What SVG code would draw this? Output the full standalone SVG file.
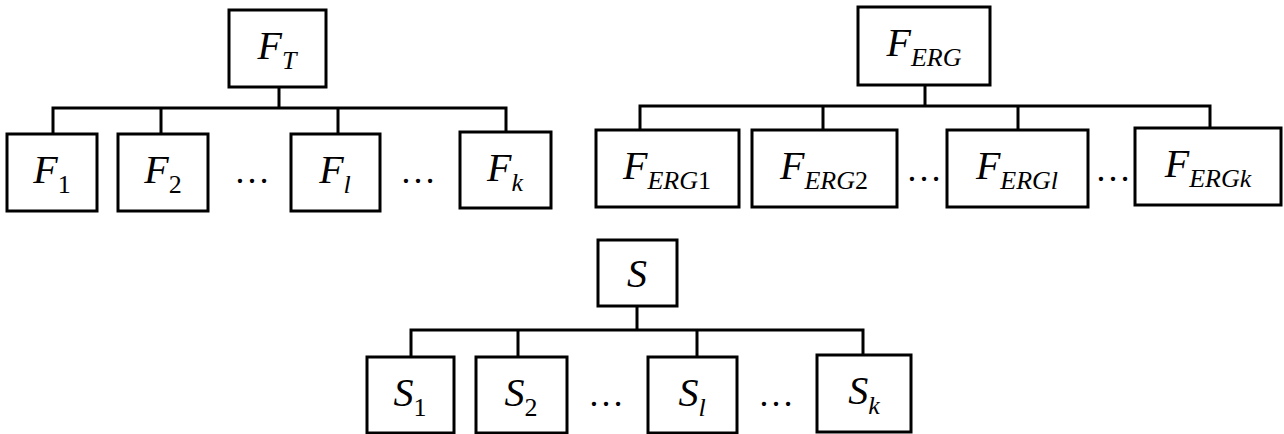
<svg xmlns="http://www.w3.org/2000/svg" width="1284" height="434" viewBox="0 0 1284 434">
  <style>
    .box { fill: #ffffff; stroke: #000000; stroke-width: 3; }
    .wire { fill: none; stroke: #000000; stroke-width: 3; stroke-linecap: square; }
    text, tspan { font-family: "Liberation Serif", "Times New Roman", serif; }
    .lbl { font-size: 40px; font-style: italic; }
    .sub { font-size: 26px; }
    .up { font-style: normal; }
    .dots { font-size: 36px; }
  </style>
  <rect width="1284" height="434" fill="#ffffff"/>

  <!-- connectors -->
  <g id="connectors" class="wire">
    <!-- F_T tree -->
    <path d="M279 87 V108 M53 108 H506 M53 108 V134 M161 108 V134 M338 108 V134 M506 108 V132"/>
    <!-- F_ERG tree -->
    <path d="M925 85 V106 M640 106 H1210 M640 106 V130 M823 106 V130 M1018 106 V130 M1210 106 V128"/>
    <!-- S tree -->
    <path d="M637 306 V330 M411 330 H863 M411 330 V357 M518 330 V357 M697 330 V357 M863 330 V355"/>
  </g>

  <g fill="#000000">
  <!-- F_T tree nodes -->
  <g id="FT"><rect class="box" x="229" y="10" width="97" height="77"/>
    <text class="lbl" x="277" y="59" text-anchor="middle">F<tspan class="sub" dy="10">T</tspan></text></g>
  <g id="F1"><rect class="box" x="7" y="134" width="90" height="77"/>
    <text class="lbl" x="52" y="183" text-anchor="middle">F<tspan class="sub up" dy="10">1</tspan></text></g>
  <g id="F2"><rect class="box" x="118" y="134" width="90" height="77"/>
    <text class="lbl" x="163" y="183" text-anchor="middle">F<tspan class="sub up" dy="10">2</tspan></text></g>
  <g id="Fl"><rect class="box" x="291" y="134" width="89" height="77"/>
    <text class="lbl" x="335" y="183" text-anchor="middle">F<tspan class="sub" dy="10">l</tspan></text></g>
  <g id="Fk"><rect class="box" x="460" y="132" width="91" height="76"/>
    <text class="lbl" x="505" y="181" text-anchor="middle">F<tspan class="sub" dy="10">k</tspan></text></g>
  <text class="dots" x="252" y="183" text-anchor="middle">…</text>
  <text class="dots" x="418" y="183" text-anchor="middle">…</text>

  <!-- F_ERG tree nodes -->
  <g id="FERG"><rect class="box" x="858" y="7" width="132" height="78"/>
    <text class="lbl" x="924" y="56" text-anchor="middle">F<tspan class="sub" dy="10">ERG</tspan></text></g>
  <g id="FERG1"><rect class="box" x="596" y="130" width="143" height="77"/>
    <text class="lbl" x="667" y="179" text-anchor="middle">F<tspan class="sub" dy="10">ERG<tspan class="up">1</tspan></tspan></text></g>
  <g id="FERG2"><rect class="box" x="752" y="130" width="145" height="77"/>
    <text class="lbl" x="824" y="179" text-anchor="middle">F<tspan class="sub" dy="10">ERG<tspan class="up">2</tspan></tspan></text></g>
  <g id="FERGl"><rect class="box" x="947" y="130" width="141" height="77"/>
    <text class="lbl" x="1017" y="179" text-anchor="middle">F<tspan class="sub" dy="10">ERGl</tspan></text></g>
  <g id="FERGk"><rect class="box" x="1135" y="128" width="146" height="77"/>
    <text class="lbl" x="1208" y="177" text-anchor="middle">F<tspan class="sub" dy="10">ERGk</tspan></text></g>
  <text class="dots" x="924" y="181" text-anchor="middle">…</text>
  <text class="dots" x="1113" y="181" text-anchor="middle">…</text>

  <!-- S tree nodes -->
  <g id="S"><rect class="box" x="598" y="240" width="79" height="66"/>
    <text class="lbl" x="637" y="287" text-anchor="middle">S</text></g>
  <g id="S1"><rect class="box" x="367" y="357" width="87" height="76"/>
    <text class="lbl" x="410" y="406" text-anchor="middle">S<tspan class="sub up" dy="10">1</tspan></text></g>
  <g id="S2"><rect class="box" x="476" y="357" width="91" height="76"/>
    <text class="lbl" x="521" y="406" text-anchor="middle">S<tspan class="sub up" dy="10">2</tspan></text></g>
  <g id="Sl"><rect class="box" x="648" y="357" width="89" height="76"/>
    <text class="lbl" x="692" y="406" text-anchor="middle">S<tspan class="sub" dy="10">l</tspan></text></g>
  <g id="Sk"><rect class="box" x="817" y="355" width="94" height="77"/>
    <text class="lbl" x="864" y="404" text-anchor="middle">S<tspan class="sub" dy="10">k</tspan></text></g>
  <text class="dots" x="606" y="406" text-anchor="middle">…</text>
  <text class="dots" x="776" y="406" text-anchor="middle">…</text>
  </g>
</svg>
